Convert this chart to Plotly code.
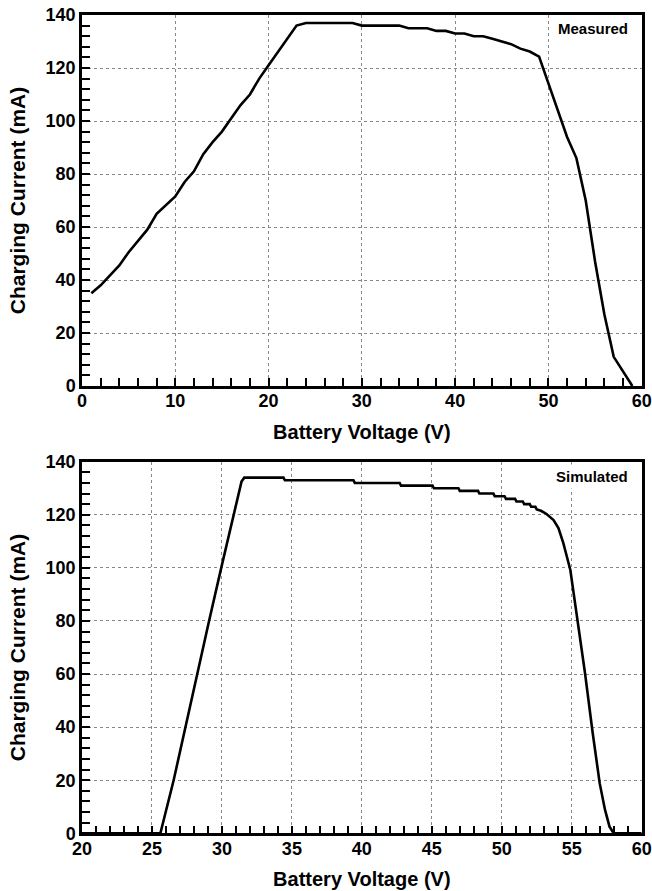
import plotly.graph_objects as go

# Measured charging current vs battery voltage
meas_v = [1, 2, 4, 5, 7, 8, 10, 11, 12, 13, 14, 15, 16, 17, 18, 19, 20,
          23, 24, 29, 30, 34, 35, 37, 38, 39, 40, 41, 42, 43, 44, 45, 46, 47, 48, 49,
          50, 51, 52, 53, 54, 55, 56, 57, 59]
meas_i = [35, 38, 45.5, 50.5, 59, 65, 71.5, 77, 81, 87.5, 92, 96, 101, 106, 110, 116, 121,
          136, 137, 137, 136, 136, 135, 135, 134, 134, 133, 133, 132, 132, 131, 130, 129, 127.3, 126.2, 124.3,
          114, 103.5, 94, 86, 70, 47, 27, 11, 0]

# Simulated charging current vs battery voltage
sim_v = [20, 25.6, 26.55, 27.38, 28.2, 29.08, 29.95, 30.83, 31.2, 31.4, 31.6,
         34.4, 34.5, 39.4, 39.5, 42.7, 42.8, 45.05, 45.15, 46.9, 47.0, 48.3, 48.4,
         49.4, 49.5, 50.2, 50.3, 50.95, 51.05, 51.5, 51.6, 52.0, 52.1, 52.4, 52.5,
         52.8, 53.2, 53.7, 54.05, 54.4, 54.9, 55.35, 55.95, 56.5, 57.0, 57.38, 57.7, 58.0, 60]
sim_i = [0, 0, 20, 40, 60, 80, 100, 120, 129, 132.5, 134,
         134, 133, 133, 132, 132, 131, 131, 130, 130, 129, 129, 128,
         128, 127, 127, 126, 126, 125, 125, 124, 124, 123, 123, 122,
         121.5, 120.3, 118, 115, 109.3, 99.2, 83, 60.3, 37.7, 18.8, 8.8, 2.5, 0, 0]

x_title = "Battery Voltage (V)"
y_title = "Charging Current (mA)"

FONT = "Liberation Sans, Arial, sans-serif"
W, H = 652, 891

def px_x(p):
    return p / W

def px_y(p):
    return 1 - p / H

fig = go.Figure()
line = dict(color="black", width=2.6)
fig.add_trace(go.Scatter(x=meas_v, y=meas_i, mode="lines", line=line,
                         xaxis="x", yaxis="y", showlegend=False))
fig.add_trace(go.Scatter(x=sim_v, y=sim_i, mode="lines", line=line,
                         xaxis="x2", yaxis="y2", showlegend=False))

tickfont = dict(family=FONT, size=18, color="black", weight="bold")

def axis(rng, dtick, minor_dtick, domain, anchor, title, tsize, standoff):
    return dict(
        range=rng, dtick=dtick, domain=domain, anchor=anchor,
        showline=True, linewidth=2.5, linecolor="black", mirror=True,
        ticks="inside", ticklen=8, tickwidth=1.5, tickcolor="black",
        minor=dict(ticks="inside", ticklen=8, tickwidth=1.5, tickcolor="black",
                   dtick=minor_dtick, showgrid=False),
        showgrid=True, gridcolor="#888888", gridwidth=1, griddash="dot",
        zeroline=False, tickfont=tickfont, automargin=False,
        ticklabelstandoff=standoff,
        title=dict(text=title, font=dict(family=FONT, size=tsize, color="black", weight="bold")),
    )

xdom = [px_x(82), px_x(641.7)]
fig.update_layout(
    width=W, height=H,
    margin=dict(l=0, r=0, t=0, b=0),
    paper_bgcolor="white", plot_bgcolor="white",
    xaxis=axis([0, 60], 10, 2, xdom, "y", x_title, 20, -3),
    yaxis=axis([0, 140], 20, 4, [px_y(386), px_y(15)], "x", y_title, 21, 0),
    xaxis2=axis([20, 60], 5, 1, xdom, "y2", x_title, 20, -3),
    yaxis2=axis([0, 140], 20, 4, [px_y(833.3), px_y(461.7)], "x2", y_title, 21, 0),
    annotations=[
        dict(text="Measured", x=px_x(632), y=px_y(29), xref="paper", yref="paper",
             xanchor="right", yanchor="middle", showarrow=False, bgcolor="white",
             borderpad=3, font=dict(family=FONT, size=15, color="black", weight="bold")),
        dict(text="Simulated", x=px_x(632), y=px_y(476), xref="paper", yref="paper",
             xanchor="right", yanchor="middle", showarrow=False, bgcolor="white",
             borderpad=3, font=dict(family=FONT, size=15, color="black", weight="bold")),
    ],
)

fig.write_html("out.html")
